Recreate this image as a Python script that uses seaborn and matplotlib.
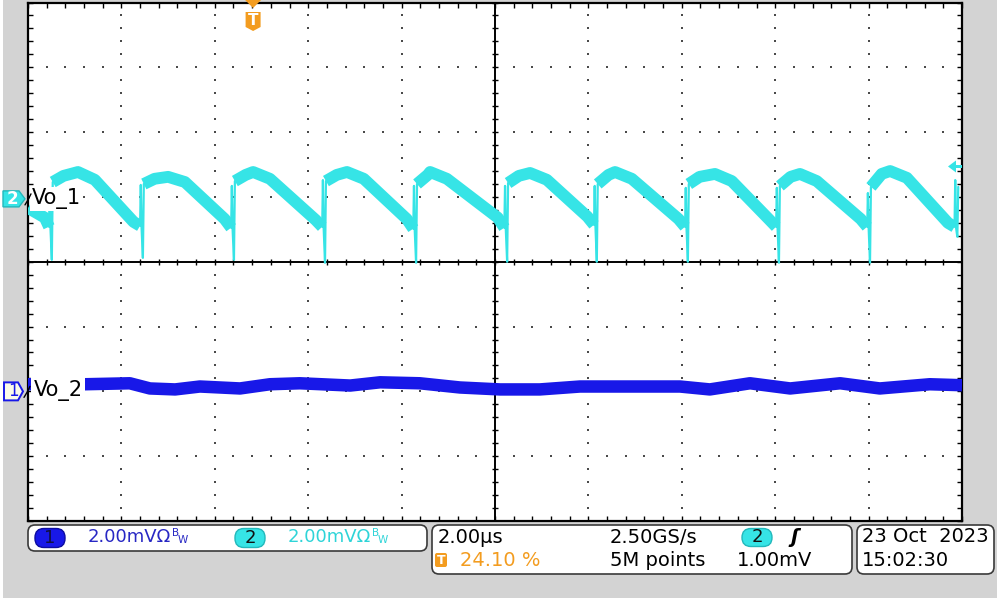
import numpy as np
import pandas as pd
import matplotlib
matplotlib.use("Agg")
import matplotlib.pyplot as plt
import seaborn as sns
from matplotlib.patches import Polygon, FancyBboxPatch, Rectangle
from matplotlib.transforms import Affine2D
from matplotlib.lines import Line2D

TIME_PER_DIV_US = 2.0          # 2.00 µs / div, 10 divisions
VOLT_PER_DIV_MV = 2.0          # both channels 2.00 mV / div
CH2_POS_DIV = 0.97             # Vo_1 reference marker position (div)
CH1_POS_DIV = -2.0             # Vo_2 reference marker position (div)
TRIG_PCT = 24.10               # trigger position, % of record
TRIG_LEVEL_MV = 1.00           # trigger level on channel 2

# Vo_1 (channel 2, cyan): switching ripple, one sawtooth per cycle
vo1_lead_t = [0.0, 0.36]
vo1_lead_v = [-0.28, -0.58]
vo1_spike_t = [0.51, 2.46, 4.41, 6.36, 8.31, 10.26, 12.18, 14.13, 16.08, 18.03, 19.90]
vo1_spike_min = [-1.88, -1.82, -1.88, -1.97, -1.97, -1.94, -1.94, -1.94, -1.97, -1.97, -1.17]
vo1_blip = [0.30, 0.43, 0.40, 0.58, 0.40, 0.40, 0.40, 0.34, 0.34, 0.18, 0.58]
vo1_dip = [-0.86, -0.83, -0.89, -0.86, -0.92, -0.89, -0.80, -0.86, -0.86, -0.86, -0.86]
vo1_start = [0.52, 0.46, 0.55, 0.55, 0.46, 0.49, 0.46, 0.46, 0.40, 0.37]
vo1_shoulder = [0.71, 0.62, 0.74, 0.74, 0.74, 0.71, 0.74, 0.68, 0.68, 0.77]
vo1_peak_t = [1.07, 3.00, 4.82, 6.83, 8.61, 10.75, 12.57, 14.71, 16.53, 18.46]
vo1_peak = [0.83, 0.68, 0.83, 0.83, 0.83, 0.80, 0.83, 0.77, 0.77, 0.86]
vo1_knee = [0.59, 0.52, 0.62, 0.62, 0.62, 0.59, 0.62, 0.55, 0.55, 0.65]
vo1_end = [-0.71, -0.62, -0.65, -0.62, -0.58, -0.55, -0.62, -0.65, -0.62, -0.74]
vo1_tail = 0.37

# Vo_2 (channel 1, blue): nearly flat output ripple
vo2_t = [0.0, 1.22, 2.18, 2.61, 3.15, 3.68, 4.54, 5.18, 5.82, 6.90, 7.54, 8.39, 9.25,
         10.11, 10.96, 11.82, 12.68, 13.96, 14.60, 15.46, 16.32, 17.39, 18.24, 19.31, 20.0]
vo2_v = [0.22, 0.22, 0.25, 0.09, 0.06, 0.15, 0.09, 0.22, 0.25, 0.18, 0.28, 0.25, 0.12,
         0.06, 0.06, 0.15, 0.15, 0.15, 0.06, 0.25, 0.09, 0.25, 0.09, 0.22, 0.19]

CYAN = "#36e4e6"
BLUE = "#1818e8"
ORANGE = "#f39c1f"

# ---------------- figure ----------------
sns.set_style("white")
plt.rcParams["font.family"] = ["DejaVu Sans"]

fig = plt.figure(figsize=(10, 6.03), dpi=100)
fig.patch.set_facecolor("white")
PX = Affine2D().scale(1 / 1000, 1 / 603) + fig.transFigure


def Y(y):
    return 603 - y


fig.add_artist(Rectangle((3, Y(598)), 994, 598, transform=PX, fc="#d3d3d3", ec="none", zorder=0))

ax = fig.add_axes([28 / 1000, (603 - 521) / 603, 934 / 1000, 518.5 / 603])
ax.set_facecolor("white")
ax.set_xlim(0, 10 * TIME_PER_DIV_US)
ax.set_ylim(-4, 4)

# grid: dotted lines every division, dots every 1/5 division
xs_minor = np.arange(0, 20.001, 0.4)
ys_minor = np.arange(-4, 4.001, 0.2)
for gx in [2, 4, 6, 8, 12, 14, 16, 18]:
    ax.plot(np.full_like(ys_minor, gx), ys_minor, ls="none", marker="s", ms=1.5, mew=0,
            color="#4a4a4a", zorder=1)
for gy in [-3, -2, -1, 1, 2, 3]:
    ax.plot(xs_minor, np.full_like(xs_minor, gy), ls="none", marker="s", ms=1.5, mew=0,
            color="#4a4a4a", zorder=1)
ax.axhline(0, color="black", lw=1.4, zorder=1.5)
ax.axvline(10, color="black", lw=1.4, zorder=1.5)
ax.plot(xs_minor, np.zeros_like(xs_minor), ls="none", marker="|", ms=5, mew=1, color="black", zorder=1.5)
ax.plot(np.full_like(ys_minor, 10), ys_minor, ls="none", marker="_", ms=5, mew=1, color="black", zorder=1.5)

ax.set_xticks(np.arange(0, 20.001, 2))
ax.set_xticks(xs_minor, minor=True)
ax.set_yticks(np.arange(-4, 4.001, 1))
ax.set_yticks(ys_minor, minor=True)
ax.tick_params(which="both", direction="in", top=True, right=True, bottom=True, left=True,
               labelbottom=False, labelleft=False, length=3.5, width=1, color="black")
for s in ax.spines.values():
    s.set_color("black")
    s.set_linewidth(1.6)


def ch2(v):
    return v / VOLT_PER_DIV_MV + CH2_POS_DIV


def ch1(v):
    return v / VOLT_PER_DIV_MV + CH1_POS_DIV


# ---------------- Vo_1 body ----------------
rows = []
for t, v in zip(vo1_lead_t, vo1_lead_v):
    rows.append((t, ch2(v), 0))
rows.append((vo1_spike_t[0] - 0.06, ch2(vo1_dip[0]), 0))
for i in range(10):
    ts, tn = vo1_spike_t[i], vo1_spike_t[i + 1]
    seg = i + 1
    rows.append((ts + 0.02, ch2(vo1_start[i]), seg))
    rows.append((ts + 0.25, ch2(vo1_shoulder[i]), seg))
    rows.append((vo1_peak_t[i], ch2(vo1_peak[i]), seg))
    rows.append((vo1_peak_t[i] + 0.36, ch2(vo1_knee[i]), seg))
    rows.append((tn - 0.2, ch2(vo1_end[i]), seg))
    rows.append((tn - 0.06, ch2(vo1_dip[i + 1]), seg))
body = pd.DataFrame(rows, columns=["t", "v", "seg"])
sns.lineplot(data=body, x="t", y="v", units="seg", estimator=None, sort=False, color=CYAN,
             lw=8.5, solid_capstyle="butt", solid_joinstyle="round", ax=ax, legend=False, zorder=3)

# spikes (thin)
rows = []
for i, ts in enumerate(vo1_spike_t):
    nxt = vo1_start[i] if i < 10 else vo1_tail
    rows += [(ts - 0.06, ch2(vo1_dip[i]), i), (ts - 0.045, ch2(vo1_blip[i]), i),
             (ts - 0.03, ch2(vo1_dip[i]), i), (ts, ch2(vo1_spike_min[i]), i),
             (ts + 0.02, ch2(nxt), i)]
spk = pd.DataFrame(rows, columns=["t", "v", "seg"])
sns.lineplot(data=spk, x="t", y="v", units="seg", estimator=None, sort=False, color=CYAN,
             lw=1.6, ax=ax, legend=False, zorder=3)

# ---------------- Vo_2 ----------------
vo2 = pd.DataFrame({"t": vo2_t, "v": [ch1(v) for v in vo2_v]})
sns.lineplot(data=vo2, x="t", y="v", estimator=None, sort=False, color=BLUE, lw=9,
             solid_capstyle="butt", ax=ax, legend=False, zorder=3)
ax.set_xlabel("")
ax.set_ylabel("")

# trace labels
ax.text(0.08, CH2_POS_DIV, "Vo_1", fontsize=15, color="black", va="center", ha="left",
        zorder=5, bbox=dict(boxstyle="square,pad=0.06", fc="white", ec="none"))
ax.text(0.12, CH1_POS_DIV + 0.02, "Vo_2", fontsize=15, color="black", va="center", ha="left",
        zorder=5, bbox=dict(boxstyle="square,pad=0.12", fc="white", ec="none"))

fig.canvas.draw()
# ---------------- channel markers ----------------
yc2 = ax.transData.transform((0, CH2_POS_DIV))[1]
yc1 = ax.transData.transform((0, CH1_POS_DIV))[1]
fig.add_artist(Polygon([(3, yc2 + 8), (19, yc2 + 8), (25, yc2), (19, yc2 - 8), (3, yc2 - 8)],
                       closed=True, transform=PX, fc=CYAN, ec="#22b8bb", lw=1, zorder=5))
fig.text(12, yc2, "2", transform=PX, color="white", fontsize=12, fontweight="bold",
         ha="center", va="center", zorder=6)
fig.add_artist(Line2D([25, 28, 31], [yc2 - 6, yc2 - 1, yc2 + 5], transform=PX, color="black", lw=1, zorder=6))

fig.add_artist(Polygon([(4, yc1 + 9), (18, yc1 + 9), (23, yc1), (18, yc1 - 9), (4, yc1 - 9)],
                       closed=True, transform=PX, fc="#fbfbe8", ec=BLUE, lw=1.4, zorder=5))
fig.text(13, yc1, "1", transform=PX, color=BLUE, fontsize=12, ha="center", va="center", zorder=6)
fig.add_artist(Line2D([24, 27, 30], [yc1 - 6, yc1 - 1, yc1 + 5], transform=PX, color="black", lw=1, zorder=6))

# trigger position marker
tx = ax.transData.transform((TRIG_PCT / 100 * 20, 0))[0]
fig.add_artist(Polygon([(tx - 8, Y(0)), (tx + 8, Y(0)), (tx, Y(8))], closed=True, transform=PX,
                       fc=ORANGE, ec="none", zorder=6))
fig.add_artist(Polygon([(tx - 7.5, Y(12)), (tx + 7.5, Y(12)), (tx + 7.5, Y(27)), (tx, Y(31)),
                        (tx - 7.5, Y(27))], closed=True, transform=PX, fc=ORANGE, ec="none", zorder=6))
fig.text(tx, Y(20.5), "T", transform=PX, color="white", fontsize=11, fontweight="bold",
         ha="center", va="center", zorder=7)

# trigger level marker (right side)
yl = ax.transData.transform((0, ch2(TRIG_LEVEL_MV)))[1]
fig.add_artist(Polygon([(948, yl), (956, yl + 6), (956, yl - 6)], closed=True, transform=PX,
                       fc=CYAN, ec="none", zorder=6))
fig.add_artist(Rectangle((955, yl - 1.5), 7, 3, transform=PX, fc=CYAN, ec="none", zorder=6))

# ---------------- status bar ----------------
def box(x0, y0, x1, y1, r=7, fc="white", ec="#3a3a3a", lw=1.2, z=2):
    fig.add_artist(FancyBboxPatch((x0, Y(y1)), x1 - x0, y1 - y0,
                                  boxstyle=f"round,pad=0,rounding_size={r}", transform=PX,
                                  fc=fc, ec=ec, lw=lw, zorder=z))


box(28, 525, 427, 551)
box(432, 525, 852, 574)
box(857, 525, 994, 574)

FS1 = 13
FS = 14
TXT1 = "#2828c4"
TXT2 = "#2fd4d8"
box(35, 528.5, 65, 547.5, r=9, fc=BLUE, ec="#0c0ca0", lw=1, z=3)
fig.text(50, Y(538), "1", transform=PX, fontsize=FS1, color="#101040", ha="center", va="center", zorder=4)
fig.text(88, Y(537.5), "2.00mVΩ", transform=PX, fontsize=FS1, color=TXT1, ha="left", va="center", zorder=4)
fig.text(172, Y(533), "B", transform=PX, fontsize=7.5, color=TXT1, ha="left", va="center", zorder=4)
fig.text(178, Y(540), "W", transform=PX, fontsize=7.5, color=TXT1, ha="left", va="center", zorder=4)

box(235, 528.5, 265, 547.5, r=9, fc=CYAN, ec="#22b8bb", lw=1, z=3)
fig.text(250, Y(538), "2", transform=PX, fontsize=FS1, color="#101010", ha="center", va="center", zorder=4)
fig.text(288, Y(537.5), "2.00mVΩ", transform=PX, fontsize=FS1, color=TXT2, ha="left", va="center", zorder=4)
fig.text(372, Y(533), "B", transform=PX, fontsize=7.5, color=TXT2, ha="left", va="center", zorder=4)
fig.text(378, Y(540), "W", transform=PX, fontsize=7.5, color=TXT2, ha="left", va="center", zorder=4)

fig.text(438, Y(537.5), "2.00µs", transform=PX, fontsize=FS, color="black", ha="left", va="center", zorder=4)
fig.text(610, Y(537.5), "2.50GS/s", transform=PX, fontsize=FS, color="black", ha="left", va="center", zorder=4)
box(742, 528.5, 772, 546.5, r=9, fc=CYAN, ec="#22b8bb", lw=1, z=3)
fig.text(757, Y(537.5), "2", transform=PX, fontsize=FS1, color="#101010", ha="center", va="center", zorder=4)
fig.text(795, Y(537.5), "ʃ", transform=PX, fontsize=FS, color="black", fontweight="bold",
         style="italic", ha="center", va="center", zorder=4)

box(435, 553, 447, 567, r=2, fc=ORANGE, ec="none", lw=0, z=3)
fig.text(441, Y(560), "T", transform=PX, fontsize=9, color="white", fontweight="bold",
         ha="center", va="center", zorder=4)
fig.text(460, Y(560.5), "24.10 %", transform=PX, fontsize=FS, color=ORANGE, ha="left", va="center", zorder=4)
fig.text(610, Y(560.5), "5M points", transform=PX, fontsize=FS, color="black", ha="left", va="center", zorder=4)
fig.text(737, Y(560.5), "1.00mV", transform=PX, fontsize=FS, color="black", ha="left", va="center", zorder=4)

fig.text(862, Y(537), "23 Oct  2023", transform=PX, fontsize=FS, color="black", ha="left", va="center", zorder=4)
fig.text(862, Y(560), "15:02:30", transform=PX, fontsize=FS, color="black", ha="left", va="center", zorder=4)

fig.savefig("out.png", dpi=100, facecolor=fig.get_facecolor())
